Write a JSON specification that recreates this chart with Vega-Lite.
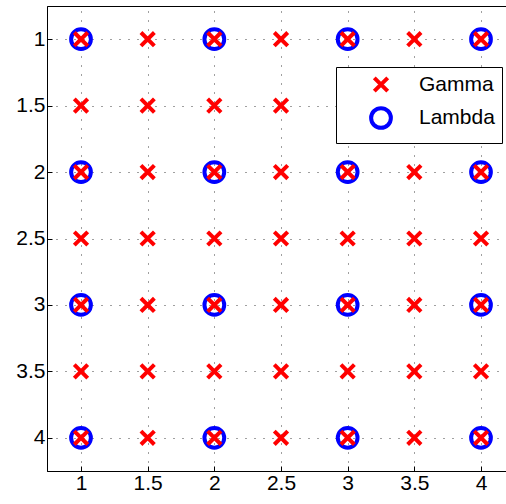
{
  "$schema": "https://vega.github.io/schema/vega-lite/v6.json",
  "width": 460,
  "height": 465,
  "autosize": {"type": "none"},
  "padding": {"left": 47, "top": 6, "right": 0, "bottom": 33},
  "background": "white",
  "config": {
    "view": {"stroke": "black", "strokeWidth": 1},
    "font": "Liberation Sans",
    "axis": {
      "domainColor": "black",
      "domainWidth": 1,
      "tickColor": "black",
      "tickSize": -5,
      "labelColor": "black",
      "labelFont": "Liberation Sans",
      "labelFontSize": 21,
      "grid": true,
      "gridColor": "black",
      "gridDash": [1, 8],
      "gridOpacity": 0.75,
      "title": null,
      "format": "~g"
    }
  },
  "data": {
    "values": [
      {"x": 1, "y": 1, "series": "Lambda"}, {"x": 2, "y": 1, "series": "Lambda"}, {"x": 3, "y": 1, "series": "Lambda"}, {"x": 4, "y": 1, "series": "Lambda"},
      {"x": 1, "y": 2, "series": "Lambda"}, {"x": 2, "y": 2, "series": "Lambda"}, {"x": 3, "y": 2, "series": "Lambda"}, {"x": 4, "y": 2, "series": "Lambda"},
      {"x": 1, "y": 3, "series": "Lambda"}, {"x": 2, "y": 3, "series": "Lambda"}, {"x": 3, "y": 3, "series": "Lambda"}, {"x": 4, "y": 3, "series": "Lambda"},
      {"x": 1, "y": 4, "series": "Lambda"}, {"x": 2, "y": 4, "series": "Lambda"}, {"x": 3, "y": 4, "series": "Lambda"}, {"x": 4, "y": 4, "series": "Lambda"},
      {"x": 1, "y": 1, "series": "Gamma"}, {"x": 1.5, "y": 1, "series": "Gamma"}, {"x": 2, "y": 1, "series": "Gamma"}, {"x": 2.5, "y": 1, "series": "Gamma"}, {"x": 3, "y": 1, "series": "Gamma"}, {"x": 3.5, "y": 1, "series": "Gamma"}, {"x": 4, "y": 1, "series": "Gamma"},
      {"x": 1, "y": 1.5, "series": "Gamma"}, {"x": 1.5, "y": 1.5, "series": "Gamma"}, {"x": 2, "y": 1.5, "series": "Gamma"}, {"x": 2.5, "y": 1.5, "series": "Gamma"}, {"x": 3, "y": 1.5, "series": "Gamma"}, {"x": 3.5, "y": 1.5, "series": "Gamma"}, {"x": 4, "y": 1.5, "series": "Gamma"},
      {"x": 1, "y": 2, "series": "Gamma"}, {"x": 1.5, "y": 2, "series": "Gamma"}, {"x": 2, "y": 2, "series": "Gamma"}, {"x": 2.5, "y": 2, "series": "Gamma"}, {"x": 3, "y": 2, "series": "Gamma"}, {"x": 3.5, "y": 2, "series": "Gamma"}, {"x": 4, "y": 2, "series": "Gamma"},
      {"x": 1, "y": 2.5, "series": "Gamma"}, {"x": 1.5, "y": 2.5, "series": "Gamma"}, {"x": 2, "y": 2.5, "series": "Gamma"}, {"x": 2.5, "y": 2.5, "series": "Gamma"}, {"x": 3, "y": 2.5, "series": "Gamma"}, {"x": 3.5, "y": 2.5, "series": "Gamma"}, {"x": 4, "y": 2.5, "series": "Gamma"},
      {"x": 1, "y": 3, "series": "Gamma"}, {"x": 1.5, "y": 3, "series": "Gamma"}, {"x": 2, "y": 3, "series": "Gamma"}, {"x": 2.5, "y": 3, "series": "Gamma"}, {"x": 3, "y": 3, "series": "Gamma"}, {"x": 3.5, "y": 3, "series": "Gamma"}, {"x": 4, "y": 3, "series": "Gamma"},
      {"x": 1, "y": 3.5, "series": "Gamma"}, {"x": 1.5, "y": 3.5, "series": "Gamma"}, {"x": 2, "y": 3.5, "series": "Gamma"}, {"x": 2.5, "y": 3.5, "series": "Gamma"}, {"x": 3, "y": 3.5, "series": "Gamma"}, {"x": 3.5, "y": 3.5, "series": "Gamma"}, {"x": 4, "y": 3.5, "series": "Gamma"},
      {"x": 1, "y": 4, "series": "Gamma"}, {"x": 1.5, "y": 4, "series": "Gamma"}, {"x": 2, "y": 4, "series": "Gamma"}, {"x": 2.5, "y": 4, "series": "Gamma"}, {"x": 3, "y": 4, "series": "Gamma"}, {"x": 3.5, "y": 4, "series": "Gamma"}, {"x": 4, "y": 4, "series": "Gamma"}
    ]
  },
  "mark": {"type": "point", "filled": false, "strokeWidth": 4, "opacity": 1},
  "encoding": {
    "x": {
      "field": "x",
      "type": "quantitative",
      "scale": {"domain": [0.745, 4.195], "nice": false, "zero": false},
      "axis": {"values": [1, 1.5, 2, 2.5, 3, 3.5, 4], "labelPadding": 6, "labelFlush": false}
    },
    "y": {
      "field": "y",
      "type": "quantitative",
      "scale": {"domain": [0.75, 4.25], "nice": false, "zero": false, "reverse": true},
      "axis": {"values": [1, 1.5, 2, 2.5, 3, 3.5, 4], "labelPadding": 7, "labelFlush": false}
    },
    "color": {
      "field": "series",
      "type": "nominal",
      "scale": {"domain": ["Gamma", "Lambda"], "range": ["#ff0000", "#0000ff"]},
      "legend": {
        "title": null,
        "orient": "none",
        "legendX": 289,
        "legendY": 61,
        "fillColor": "white",
        "strokeColor": "black",
        "padding": 7,
        "symbolOffset": 26,
        "labelOffset": 26,
        "labelFontSize": 21,
        "labelFont": "Liberation Sans",
        "labelColor": "black",
        "symbolStrokeWidth": 4,
        "rowPadding": 0
      }
    },
    "shape": {
      "field": "series",
      "type": "nominal",
      "scale": {"domain": ["Gamma", "Lambda"], "range": ["M-1,-1L1,1M1,-1L-1,1", "circle"]}
    },
    "size": {
      "field": "series",
      "type": "nominal",
      "scale": {"domain": ["Gamma", "Lambda"], "range": [180, 390]}
    }
  }
}
